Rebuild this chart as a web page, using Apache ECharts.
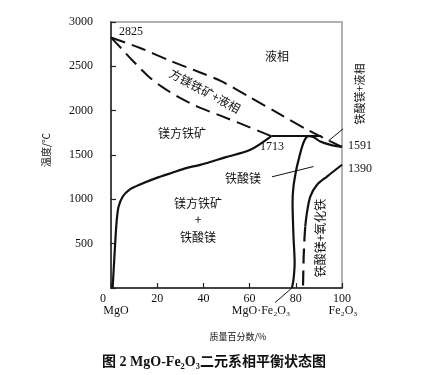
<!DOCTYPE html>
<html>
<head>
<meta charset="utf-8">
<script src="https://cdn.jsdelivr.net/npm/echarts@6/dist/echarts.min.js"></script>
<style>
  html, body { margin: 0; padding: 0; background: #fff; }
  #chart { width: 438px; height: 375px; }
</style>
</head>
<body>
<div id="chart"></div>
<script>
// phase boundaries, [Fe2O3 %, temperature C]
var liquidus = [[0, 2825], [12.6, 2707], [25.6, 2563], [38.6, 2431], [47.7, 2332], [60.2, 2151], [73.2, 1959], [86.2, 1768], [100, 1591]];
var solidus = [[0, 2825], [3.9, 2718], [9.1, 2572], [16.0, 2392], [22.1, 2268], [29.5, 2149], [37.7, 2042], [47.7, 1941], [58.5, 1828], [69.4, 1713]];
var wustiteSolvus = [[0.7, 0], [1.4, 319], [1.9, 544], [2.5, 769], [3.3, 919], [5.1, 1032], [7.9, 1107], [12.3, 1164], [19.5, 1239], [26.7, 1302], [32.5, 1352], [38.6, 1389], [49.4, 1473], [60.3, 1558], [69.4, 1713]];
var peritectic = [[69.4, 1713], [91, 1713]];
var ferriteLeft = [[78.3, 0], [79.0, 94], [79.5, 285], [79.0, 581], [78.6, 961], [79.0, 1145], [80.2, 1333], [81.2, 1445], [82.7, 1592], [84.1, 1682], [85.5, 1713], [87.6, 1704], [90.6, 1651], [95.0, 1614], [100, 1591]];
var ferriteRight = [[100, 1390], [93.5, 1257], [89.2, 1164], [86.3, 1032], [84.8, 845], [84.1, 694]];
var ferriteRightDash = [[84.1, 694], [83.8, 581], [83.4, 356], [83.1, 0]];
// leader lines for labels
var leaderCompound = [[71, -165], [78.3, 0]];
var leaderFerrite = [[69.7, 1254], [87.7, 1370]];
var leaderLiquid = [[94.1, 1659], [103.6, 1862]];

var xTicks = [0, 20, 40, 60, 80, 100];
var yTicks = [500, 1000, 1500, 2000, 2500, 3000];

var cjk = '"Noto Sans CJK SC", sans-serif';
var serif = '"Liberation Serif", "DejaVu Serif", serif';

function curve(data, dashed, width, smooth) {
  return {
    type: 'line',
    data: data,
    showSymbol: false,
    smooth: smooth,
    clip: false,
    silent: true,
    lineStyle: { color: '#111', width: width, type: dashed ? [15, 7] : 'solid' }
  };
}

function label(text, x, y, size, opts) {
  opts = opts || {};
  return {
    type: 'text',
    x: x,
    y: y,
    rotation: opts.rotation || 0,
    style: {
      text: text,
      fill: '#111',
      fontSize: size,
      fontFamily: opts.family || cjk,
      fontWeight: opts.weight || 'normal',
      align: opts.align || 'center',
      verticalAlign: 'middle'
    }
  };
}

var chartDom = document.getElementById('chart');
var myChart = echarts.init(chartDom, null, { renderer: 'canvas' });
var option;

option = {
  animation: false,
  grid: {
    left: 111,
    top: 22,
    width: 231,
    height: 266,
    show: true,
    borderColor: '#999',
    borderWidth: 1.5
  },
  xAxis: {
    type: 'value',
    min: 0,
    max: 100,
    interval: 20,
    axisLine: { lineStyle: { color: '#222', width: 1.5 } },
    axisTick: { inside: true, length: 5, lineStyle: { color: '#222', width: 1.2 } },
    splitLine: { show: false },
    axisLabel: {
      margin: 5,
      color: '#111',
      fontSize: 12,
      fontFamily: serif,
      formatter: function (v) {
        if (xTicks.indexOf(v) < 0) return '';
        return v === 0 ? '{z|0}' : String(v);
      },
      rich: { z: { fontSize: 12, fontFamily: serif, padding: [0, 16, 0, 0] } }
    }
  },
  yAxis: {
    type: 'value',
    min: 0,
    max: 3000,
    interval: 500,
    axisLine: { lineStyle: { color: '#222', width: 1.5 } },
    axisTick: { inside: true, length: 5, lineStyle: { color: '#222', width: 1.2 } },
    splitLine: { show: false },
    axisLabel: {
      margin: 18,
      color: '#111',
      fontSize: 12,
      fontFamily: serif,
      formatter: function (v) {
        return yTicks.indexOf(v) < 0 ? '' : String(v);
      }
    }
  },
  series: [
    curve(liquidus, true, 2, 0.3),
    curve(solidus, true, 2, 0.3),
    curve(wustiteSolvus, false, 2.2, 0.3),
    curve(peritectic, false, 2, false),
    curve(ferriteLeft, false, 2.2, 0.3),
    curve(ferriteRight, false, 2.2, 0.3),
    curve(ferriteRightDash, true, 2.2, false),
    curve(leaderCompound, false, 1, false),
    curve(leaderFerrite, false, 1, false),
    curve(leaderLiquid, false, 1, false)
  ],
  graphic: [
    label('2825', 119, 32, 12, { family: serif, align: 'left' }),
    label('液相', 277, 56, 12),
    label('方镁铁矿+液相', 205, 91, 12, { rotation: -0.5 }),
    label('镁方铁矿', 182, 133, 12),
    label('1713', 272, 147, 12, { family: serif }),
    label('1591', 348, 146, 12, { family: serif, align: 'left' }),
    label('1390', 348, 169, 12, { family: serif, align: 'left' }),
    label('铁酸镁+液相', 360, 94, 11, { rotation: Math.PI / 2 }),
    label('铁酸镁', 243, 178, 12),
    label('镁方铁矿', 198, 203, 12),
    label('+', 198, 219, 12),
    label('铁酸镁', 198, 237, 12),
    label('铁酸镁+氧化铁', 320, 238, 12, { rotation: Math.PI / 2 }),
    label('MgO', 116, 311, 12, { family: serif }),
    label('MgO·Fe₂O₃', 261, 311, 12, { family: serif }),
    label('Fe₂O₃', 343, 311, 12, { family: serif }),
    label('质量百分数/%', 238, 337, 9),
    label('温度/℃', 46, 150, 10, { rotation: Math.PI / 2 }),
    label('图 2 MgO-Fe₂O₃二元系相平衡状态图', 214, 362, 14, { family: serif + ', ' + cjk, weight: 'bold' })
  ]
};
option && myChart.setOption(option);
window.addEventListener('resize', function () {
  myChart.resize();
});
</script>
</body>
</html>
